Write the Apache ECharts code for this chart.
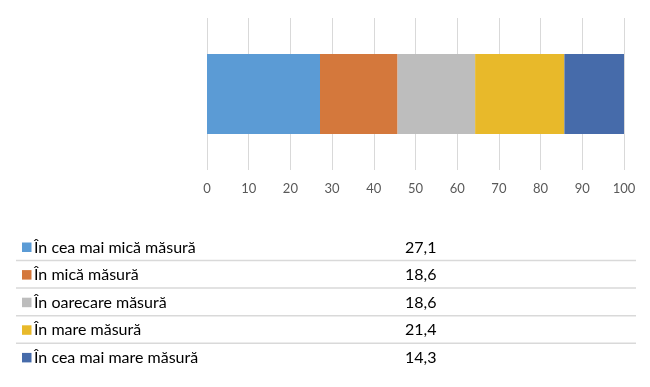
<!DOCTYPE html>
<html>
<head>
<meta charset="utf-8">
<script src="https://cdn.jsdelivr.net/npm/echarts@6/dist/echarts.min.js"></script>
<style>
html,body{margin:0;padding:0;background:#fff;}
#chart{width:650px;height:387px;}
</style>
</head>
<body>
<div id="chart"></div>
<script>
const categories = ['În cea mai mică măsură', 'În mică măsură', 'În oarecare măsură', 'În mare măsură', 'În cea mai mare măsură'];
const values = [27.1, 18.6, 18.6, 21.4, 14.3];
const colors = ['#5B9BD5', '#D4783C', '#BDBDBD', '#E8B92A', '#466BAA'];
const xTicks = [0, 10, 20, 30, 40, 50, 60, 70, 80, 90, 100];

const chart = echarts.init(document.getElementById('chart'), null, {renderer: 'canvas'});

const fontFamily = 'Lato, "Open Sans", sans-serif';
const rowY0 = 247.5, rowStep = 27.6;

const series = categories.map((name, i) => ({
  name: name,
  type: 'bar',
  stack: 'total',
  barWidth: 80,
  itemStyle: {color: colors[i]},
  data: [values[i]],
  silent: true
}));

const graphics = [];
categories.forEach((name, i) => {
  const cy = rowY0 + i * rowStep;
  graphics.push({
    type: 'rect', shape: {x: 22, y: cy - 5, width: 9.5, height: 9.5},
    style: {fill: colors[i]}
  });
  graphics.push({
    type: 'text', x: 34, y: cy,
    style: {text: name, fill: '#000', font: '16px ' + fontFamily, textVerticalAlign: 'middle', textAlign: 'left'}
  });
  graphics.push({
    type: 'text', x: 405, y: cy,
    style: {text: values[i].toFixed(1).replace('.', ','), fill: '#000', font: '16px ' + fontFamily, textVerticalAlign: 'middle', textAlign: 'left'}
  });
  if (i < categories.length - 1) {
    graphics.push({
      type: 'line', shape: {x1: 16, y1: cy + 13, x2: 636, y2: cy + 13},
      style: {stroke: '#D9D9D9', lineWidth: 1.5}
    });
  }
});

chart.setOption({
  animation: false,
  backgroundColor: '#fff',
  grid: {left: 207, right: 26, top: 18, bottom: 217, containLabel: false},
  xAxis: {
    type: 'value', min: xTicks[0], max: xTicks[xTicks.length - 1], interval: xTicks[1] - xTicks[0],
    axisLine: {show: false}, axisTick: {show: false},
    splitLine: {show: true, lineStyle: {color: '#D9D9D9', width: 1}},
    axisLabel: {color: '#595959', fontSize: 13, fontFamily: fontFamily, margin: 12}
  },
  yAxis: {
    type: 'category', data: [''],
    axisLine: {show: false}, axisTick: {show: false}, axisLabel: {show: false}
  },
  series: series,
  graphic: graphics
});
</script>
</body>
</html>
